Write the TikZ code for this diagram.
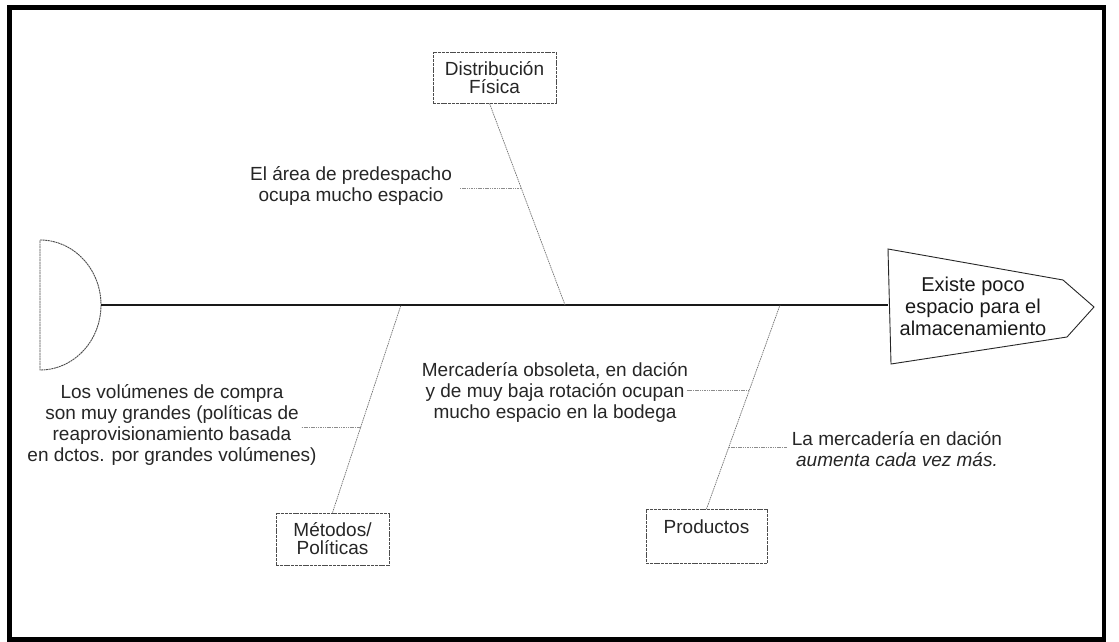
\documentclass[tikz,border=0pt]{standalone}
\usepackage{fontspec}
\setmainfont{Liberation Sans}
\usetikzlibrary{calc}
\begin{document}
\begin{tikzpicture}[x=1pt,y=-1pt,
  frame/.style={line width=4.5pt},
  spine/.style={line width=1.1pt, black!90},
  bone/.style={black!55, line width=0.7pt, dash pattern=on 1.5pt off 0.8pt},
  twig/.style={black!45, line width=0.7pt, dash pattern=on 1.5pt off 0.8pt},
  catbox/.style={draw=black!70, line width=0.8pt, dash pattern=on 3pt off 0.8pt,
    inner sep=0pt, align=center, font=\fontsize{19}{18}\selectfont, text=black!85},
  cause/.style={align=center, inner sep=0pt, font=\fontsize{19}{21}\selectfont, text=black!85},
  ]
\useasboundingbox (0,0) rectangle (1119,642);
\fill[white] (0,0) rectangle (1119,642);
\draw[frame] (9.5,7.5) rectangle (1104,639.5);

% tail of the fish
\draw[black!70, line width=0.9pt, dash pattern=on 2pt off 0.6pt]
  (40,240) arc (-90:90:61 and 65) -- cycle;
\coordinate (tail) at (101,305);

% head with the effect
\draw[black!85, line width=0.9pt]
  (888,249) -- (1063,280) -- (1094,307) -- (1067,337) -- (891,364) -- cycle;
\node[font=\fontsize{20}{22}\selectfont, align=center, inner sep=0pt, text=black!90]
  (effect) at (973,306) {Existe poco\\espacio para el\\almacenamiento};
\coordinate (headL) at (888,305);

% spine
\draw[spine] (tail) -- (headL);

% category boxes
\node[catbox, minimum width=123pt, minimum height=51pt] (dist) at (494.5,77.5) {Distribución\\Física};
\node[catbox, minimum width=113pt, minimum height=52pt] (met) at (332.5,539) {Métodos/\\Políticas};
\node[catbox, minimum width=121pt, text height=24pt, text depth=30pt, anchor=north] (prod) at (706.5,509) {Productos};

% bones
\coordinate (j1) at (565,305);
\coordinate (j2) at (401,305);
\coordinate (j3) at (780,305);
\draw[bone] ([xshift=-5pt]dist.south) -- (j1);
\draw[bone] (met.north) -- (j2);
\draw[bone] (prod.north) -- (j3);

% causes
\node[cause] (c1) at (351,186) {El área de predespacho\\ocupa mucho espacio};
\coordinate (k1) at (521,188);
\coordinate (e1) at (460,188);
\draw[twig] (k1) -- (e1);

\node[cause] (c2) at (172,424.5) {Los volúmenes de compra\\son muy grandes (políticas de\\reaprovisionamiento basada\\en dctos. por grandes volúmenes)};
\coordinate (k2) at (360.8,427);
\coordinate (e2) at (301,427);
\draw[twig] (k2) -- (e2);

\node[cause] (c3) at (555,392) {Mercadería obsoleta, en dación\\y de muy baja rotación ocupan\\mucho espacio en la bodega};
\coordinate (k3) at (749.4,390);
\coordinate (e3) at (687,390);
\draw[twig] (k3) -- (e3);

\node[cause] (c4) at (897,449) {La mercadería en dación\\\textit{aumenta cada vez más.}};
\coordinate (k4) at (728.8,447);
\coordinate (e4) at (787,447);
\draw[twig] (k4) -- (e4);
\end{tikzpicture}
\end{document}
